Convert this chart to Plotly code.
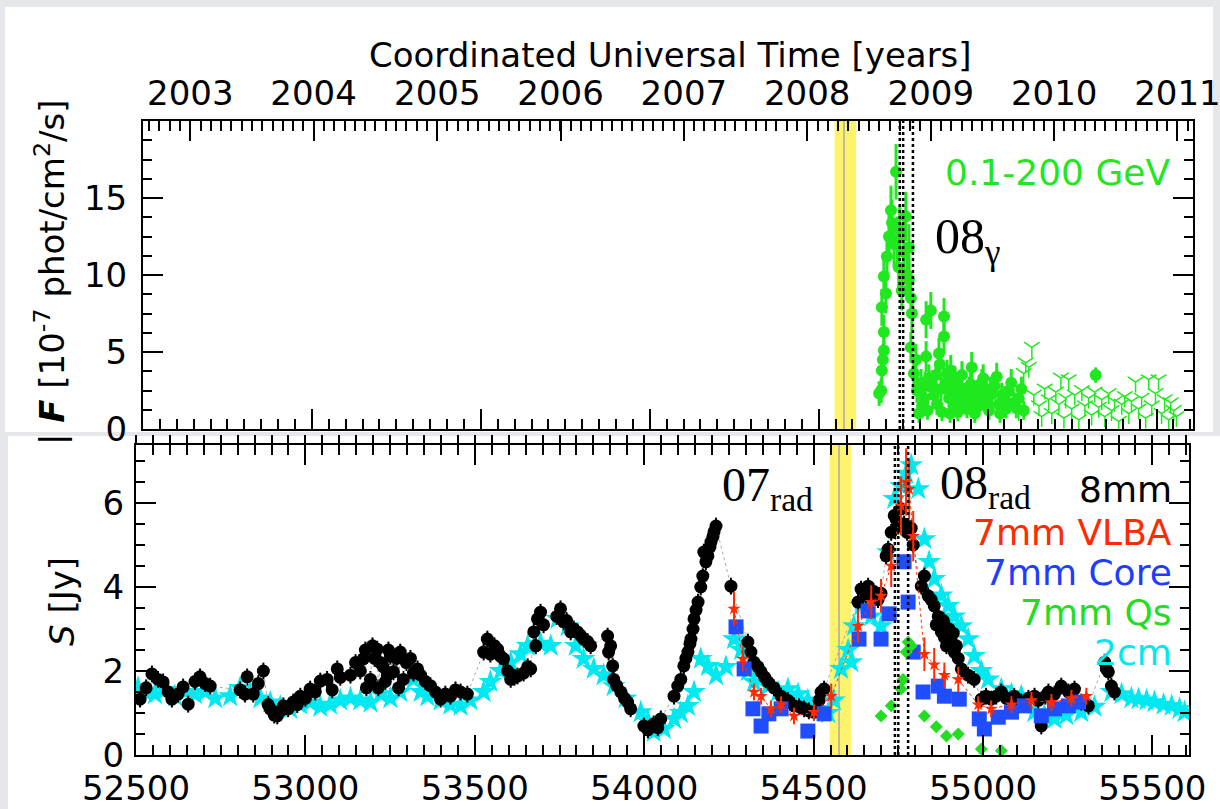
import plotly.graph_objects as go

W, H = 1220, 809
ML, MR, MT, MB = 136, 20, 121, 54

# ---------------- data ----------------
mjd_gamma = [54679, 54685, 54687, 54690, 54693, 54693, 54687, 54693, 54699, 54702,
             54708, 54714, 54717, 54723, 54729, 54732, 54737, 54740, 54746, 54752,
             54758, 54761, 54767, 54767, 54773, 54776, 54773, 54782, 54788, 54791,
             54797, 54803, 54812, 54818, 54818, 54826, 54832, 54841, 54847, 54856,
             54862, 54871, 54871, 54877, 54886, 54891, 54900, 54909, 54915, 54924,
             54930, 54939, 54945, 54953, 54959, 54968, 54974, 54983, 54992, 55004,
             55013, 55021, 55033, 55042, 55054, 55063, 55078, 55092, 55107, 55320,
             54806, 54815, 54822, 54835, 54850, 54859, 54865, 54880, 54889, 54895,
             54903, 54912, 54920, 54934, 54950, 54962, 54978, 54987, 54998, 55008,
             55027, 55037, 55048, 55070, 55085, 55100]
flux_gamma = [2.3, 2.5, 3.8, 4.5, 5.1, 6.3, 7.9, 9.9, 8.8, 11.2,
              12.5, 14.2, 13.4, 12.0, 16.7, 12.3, 10.5, 13.0, 9.0, 11.5,
              13.8, 10.0, 11.8, 9.7, 8.5, 7.5, 5.3, 3.6, 4.5, 2.5,
              1.0, 3.0, 2.0, 4.7, 7.1, 3.3, 7.7, 2.2, 3.5, 4.9,
              2.6, 7.3, 6.0, 3.0, 2.0, 3.8, 1.5, 2.8, 1.8, 3.5,
              2.2, 1.3, 2.6, 4.0, 1.8, 2.4, 1.5, 3.0, 2.0, 1.2,
              2.3, 2.8, 1.6, 2.2, 1.3, 2.5, 1.7, 2.0, 1.2, 3.5,
              1.5, 2.8, 1.2, 2.9, 1.6, 4.2, 1.1, 3.6, 1.0, 2.4,
              3.2, 1.1, 2.3, 1.7, 2.9, 1.0, 2.1, 3.3, 1.6, 2.6,
              3.4, 1.0, 1.9, 3.0, 1.4, 2.6]
err_gamma = [0.8, 0.8, 0.9, 1.0, 1.0, 1.1, 1.2, 1.4, 1.3, 1.5,
             1.5, 1.6, 1.5, 1.5, 1.8, 1.5, 1.4, 1.5, 1.3, 1.5,
             1.6, 1.4, 1.5, 1.4, 1.3, 1.2, 1.0, 0.9, 1.0, 0.8,
             0.6, 0.9, 0.8, 1.0, 1.2, 0.9, 1.2, 0.8, 0.9, 1.0,
             0.8, 1.2, 1.1, 0.9, 0.8, 1.0, 0.7, 0.9, 0.7, 0.9,
             0.8, 0.6, 0.8, 1.0, 0.7, 0.8, 0.7, 0.9, 0.8, 0.6,
             0.8, 0.9, 0.7, 0.8, 0.6, 0.8, 0.7, 0.8, 0.6, 0.5,
             0.7, 0.9, 0.6, 0.9, 0.7, 1.0, 0.6, 0.9, 0.6, 0.8,
             0.9, 0.6, 0.8, 0.7, 0.9, 0.6, 0.8, 0.9, 0.7, 0.8,
             0.9, 0.6, 0.7, 0.9, 0.7, 0.8]
mjd_ul = [55063, 55078, 55092, 55107, 55113, 55122, 55131, 55137, 55152, 55160,
          55169, 55181, 55190, 55202, 55211, 55217, 55226, 55231, 55240, 55249,
          55258, 55270, 55279, 55288, 55299, 55308, 55317, 55329, 55338, 55347,
          55358, 55367, 55376, 55388, 55397, 55406, 55418, 55426, 55438, 55447,
          55456, 55468, 55477, 55486, 55497, 55506, 55515, 55524, 55536, 55542,
          55551, 55559]
flux_ul = [2.5, 1.8, 1.2, 3.6, 4.3, 4.0, 5.3, 2.2, 1.5, 0.8,
           2.6, 1.9, 1.0, 2.4, 1.6, 3.3, 0.7, 2.0, 3.2, 1.3,
           2.2, 0.6, 2.5, 1.5, 2.0, 0.9, 2.4, 1.4, 1.9, 0.8,
           2.3, 1.2, 1.8, 0.5, 1.6, 2.1, 1.0, 1.8, 3.05, 1.3,
           2.0, 0.7, 3.2, 1.5, 2.3, 3.2, 1.0, 1.9, 0.6, 1.7,
           1.2, 0.8]

mjd_8mm = [52512, 52530, 52547, 52565, 52580, 52595, 52606, 52624, 52639, 52654,
           52674, 52689, 52704, 52719, 52807, 52822, 52828, 52846, 52861, 52876,
           52890, 52896, 52908, 52917, 52926, 52935, 52949, 52964, 52976, 52985,
           53000, 53014, 53029, 53044, 53064, 53079, 53094, 53103, 53133, 53148,
           53162, 53171, 53177, 53180, 53192, 53198, 53204, 53212, 53215, 53221,
           53230, 53236, 53242, 53245, 53251, 53260, 53269, 53275, 53280, 53289,
           53298, 53310, 53319, 53331, 53340, 53354, 53369, 53384, 53399, 53413,
           53428, 53443, 53458, 53478, 53526, 53537, 53546, 53558, 53567, 53576,
           53585, 53597, 53606, 53617, 53626, 53644, 53656, 53665, 53674, 53680,
           53685, 53694, 53703, 53742, 53753, 53762, 53771, 53783, 53792, 53803,
           53812, 53821, 53833, 53842, 53892, 53895, 53901, 53907, 53910, 53919,
           53931, 53942, 53951, 53960, 53999, 54011, 54028, 54040, 54049, 54088,
           54099, 54108, 54117, 54123, 54129, 54135, 54138, 54144, 54147, 54153,
           54159, 54167, 54173, 54176, 54182, 54188, 54194, 54197, 54203, 54206,
           54212, 54256, 54306, 54315, 54324, 54336, 54345, 54356, 54365, 54383,
           54404, 54424, 54442, 54457, 54472, 54486, 54501, 54516, 54522, 54531,
           54631, 54640, 54655, 54661, 54676, 54690, 54699, 54714, 54720, 54729,
           54738, 54744, 54750, 54758, 54767, 54776, 54788, 54794, 54818, 54827,
           54838, 54847, 54856, 54862, 54868, 54877, 54883, 54886, 54892, 54897,
           54900, 54906, 54912, 54915, 54921, 54927, 54936, 54956, 54974, 54995,
           55009, 55024, 55039, 55054, 55069, 55092, 55113, 55134, 55152, 55163,
           55172, 55184, 55193, 55211, 55231, 55252, 55270, 55290, 55311, 55359,
           55364, 55370, 55379, 55388]
s_8mm = [1.33, 1.6, 1.93, 1.8, 1.74, 1.5, 1.33, 1.45, 1.62, 1.21,
         1.75, 1.86, 1.7, 1.64, 1.55, 1.45, 1.86, 1.45, 1.7, 2.0,
         1.2, 1.1, 0.95, 0.93, 1.05, 1.17, 1.1, 1.26, 1.2, 1.4,
         1.35, 1.57, 1.5, 1.76, 1.8, 1.55, 2.05, 1.85, 1.9, 2.2,
         2.0, 2.29, 2.5, 1.6, 1.8, 2.6, 2.3, 2.52, 1.6, 2.2,
         2.1, 1.75, 1.9, 2.5, 2.35, 1.98, 2.3, 1.6, 2.45, 1.8,
         2.2, 2.3, 1.95, 2.05, 1.9, 1.75, 1.65, 1.5, 1.33, 1.45,
         1.4, 1.55, 1.5, 1.45, 2.45, 2.76, 2.4, 2.6, 2.52, 2.35,
         2.29, 2.0, 1.8, 1.85, 1.88, 1.95, 2.1, 2.05, 2.93, 2.6,
         3.24, 3.4, 3.1, 3.3, 3.48, 3.17, 3.2, 2.93, 3.0, 2.93,
         2.85, 2.76, 2.7, 2.6, 2.83, 2.45, 2.6, 2.12, 1.8, 1.65,
         1.5, 1.35, 1.26, 1.1, 0.69, 0.6, 0.74, 0.65, 0.86, 1.4,
         1.64, 1.8, 2.12, 2.3, 2.45, 2.65, 2.76, 3.0, 3.24, 3.45,
         3.64, 4.0, 4.26, 4.83, 4.6, 4.74, 4.95, 5.07, 5.2, 5.31,
         5.45, 4.02, 2.69, 2.45, 2.21, 2.1, 1.98, 1.85, 1.74, 1.6,
         1.4, 1.3, 1.17, 1.15, 1.1, 1.05, 1.02, 1.3, 1.5, 1.57,
         3.64, 3.95, 3.8, 4.02, 3.9, 3.7, 3.85, 4.74, 4.9, 5.3,
         5.7, 5.6, 5.45, 5.86, 5.5, 5.3, 5.4, 5.0, 4.02, 4.26,
         3.79, 3.7, 3.55, 3.1, 3.3, 2.93, 3.2, 2.8, 2.6, 2.83,
         3.0, 2.69, 2.9, 2.45, 2.6, 2.3, 2.05, 1.9, 1.8, 1.33,
         1.4, 1.33, 1.4, 1.5, 1.35, 1.4, 1.26, 1.35, 1.4, 1.3,
         0.69, 1.4, 1.5, 1.45, 1.64, 1.5, 1.57, 1.26, 1.17, 2.21,
         2.05, 1.98, 1.64, 1.5]

mjd_2cm = [52506, 52527, 52556, 52586, 52615, 52645, 52674, 52704, 52734, 52778,
           52807, 52837, 52867, 52896, 52926, 52955, 52985, 53014, 53044, 53073,
           53103, 53133, 53162, 53192, 53221, 53251, 53280, 53319, 53340, 53360,
           53399, 53428, 53458, 53487, 53526, 53546, 53576, 53606, 53635, 53656,
           53694, 53724, 53744, 53774, 53798, 53821, 53851, 53880, 53910, 53945,
           53990, 54011, 54028, 54058, 54088, 54108, 54129, 54147, 54167, 54188,
           54212, 54241, 54265, 54286, 54306, 54324, 54365, 54395, 54424, 54454,
           54483, 54513, 54543, 54560, 54581, 54602, 54611, 54619, 54640, 54670,
           54699, 54720, 54738, 54758, 54773, 54788, 54809, 54827, 54841, 54856,
           54877, 54897, 54915, 54936, 54956, 54974, 54995, 55015, 55054, 55084,
           55113, 55152, 55181, 55211, 55246, 55290, 55329, 55379, 55409, 55438,
           55459, 55483, 55506, 55533, 55557, 55580, 55595]
s_2cm = [1.6, 1.5, 1.45, 1.55, 1.4, 1.5, 1.45, 1.5, 1.35, 1.4,
         1.6, 1.5, 1.35, 1.25, 1.15, 1.1, 1.2, 1.25, 1.15, 1.2,
         1.3, 1.35, 1.3, 1.25, 1.45, 1.35, 1.5, 1.8, 1.5, 1.4,
         1.3, 1.2, 1.17, 1.3, 1.5, 1.74, 2.0, 2.2, 2.4, 2.6,
         2.65, 2.6, 3.24, 3.07, 2.6, 2.29, 2.05, 1.9, 1.64, 1.35,
         1.02, 0.8, 0.55, 0.62, 0.86, 1.0, 1.17, 1.5, 2.29, 2.12,
         1.9, 2.1, 2.76, 2.5, 2.0, 1.74, 1.64, 1.5, 1.57, 1.45,
         1.3, 1.1, 1.0, 1.3, 2.05, 2.5, 2.21, 3.07, 3.55, 3.3,
         3.07, 4.83, 6.1, 6.4, 6.7, 6.9, 6.33, 5.14, 4.6, 4.19,
         3.8, 3.55, 3.3, 3.07, 2.76, 2.36, 2.0, 1.8, 1.57, 1.45,
         1.4, 1.02, 0.95, 0.86, 0.95, 1.02, 1.15, 1.5, 1.45, 1.35,
         1.33, 1.3, 1.26, 1.2, 1.17, 1.1, 1.02]

mjd_vlba = [54265, 54291, 54324, 54345, 54374, 54404, 54442, 54501, 54552, 54631,
            54670, 54699, 54729, 54758, 54773, 54782, 54794, 54827, 54856, 54886,
            54927, 54986, 55024, 55084, 55143, 55202, 55261, 55305]
s_vlba = [3.48, 2.29, 1.5, 1.4, 1.1, 1.2, 0.93, 1.02, 1.4, 3.07,
          3.64, 3.79, 4.5, 5.93, 6.5, 6.33, 5.21, 2.4, 2.15, 1.9,
          1.8, 1.2, 1.1, 1.2, 1.3, 1.25, 1.35, 1.4]
err_vlba = [0.4, 0.3, 0.2, 0.2, 0.2, 0.2, 0.2, 0.2, 0.3, 0.4,
            0.4, 0.4, 0.5, 0.7, 0.8, 0.7, 0.6, 0.4, 0.4, 0.3,
            0.3, 0.2, 0.2, 0.2, 0.2, 0.2, 0.2, 0.2]

mjd_core = [54271, 54295, 54321, 54345, 54368, 54404, 54483, 54531, 54634, 54661,
            54699, 54723, 54767, 54779, 54794, 54823, 54868, 54886, 54930, 54989,
            55004, 55045, 55084, 55122, 55172, 55211, 55252, 55282]
s_core = [3.05, 2.05, 1.1, 0.69, 0.98, 1.1, 0.57, 0.98, 2.76, 3.43,
          2.76, 3.36, 4.6, 3.64, 2.45, 1.5, 1.64, 1.4, 1.33, 0.86,
          0.62, 0.9, 1.02, 1.17, 0.93, 1.1, 1.17, 1.26]

mjd_qs = [54699, 54729, 54758, 54764, 54773, 54779, 54788, 54827, 54862, 54892,
          54927, 54995, 55054]
s_qs = [0.93, 1.17, 1.57, 1.8, 2.45, 2.69, 2.6, 0.93, 0.67, 0.45,
        0.5, 0.14, 0.1]

band_07 = [54547, 54611]
band_07_center = 54575
dotted_08 = [54740, 54750, 54779]

mjd_range = [52500, 55608]
year_mjd = [52640, 53005, 53371, 53736, 54101, 54466, 54832, 55197, 55562]
year_labels = ["2003", "2004", "2005", "2006", "2007", "2008", "2009", "2010", "2011"]
flux_ticks = [0, 5, 10, 15]
legend_labels = ["8mm", "7mm VLBA", "7mm Core", "7mm Qs", "2cm"]
legend_colors = ["#000000", "#ff2a00", "#1f3dff", "#22dd22", "#00e8f0"]

GREEN = "#1fe81f"
CYAN = "#00e8f0"
RED = "#ff2a00"
BLUE = "#1f4dff"

PW = W - ML - MR
PH = H - MT - MB


def xp(x):
    return (x - ML) / PW


def yp(y):
    return (H - MB - y) / PH


fig = go.Figure()

# top panel
fig.add_trace(go.Scatter(
    x=mjd_gamma, y=flux_gamma, xaxis="x", yaxis="y", mode="markers",
    marker=dict(symbol="circle", size=12, color=GREEN),
    error_y=dict(type="data", array=err_gamma, color=GREEN, thickness=3, width=0),
    showlegend=False, hoverinfo="skip"))
fig.add_trace(go.Scatter(
    x=mjd_ul, y=flux_ul, xaxis="x3", yaxis="y3", mode="markers",
    marker=dict(symbol="y-down", size=13, color=GREEN,
                line=dict(color=GREEN, width=1.5)),
    showlegend=False, hoverinfo="skip"))

# bottom panel
fig.add_trace(go.Scatter(
    x=mjd_2cm, y=s_2cm, xaxis="x2", yaxis="y2", mode="markers",
    marker=dict(symbol="star", size=18, color=CYAN),
    showlegend=False, hoverinfo="skip"))
fig.add_trace(go.Scatter(
    x=mjd_8mm, y=s_8mm, xaxis="x2", yaxis="y2", mode="markers+lines",
    line=dict(color="#aaaaaa", width=1, dash="dot"),
    marker=dict(symbol="circle", size=13, color="black"),
    error_y=dict(type="constant", value=0.2, color="black", thickness=2, width=0),
    showlegend=False, hoverinfo="skip"))
fig.add_trace(go.Scatter(
    x=mjd_vlba, y=s_vlba, xaxis="x5", yaxis="y2", mode="markers+lines",
    line=dict(color=RED, width=1, dash="dot"),
    marker=dict(symbol="star", size=10, color=RED),
    error_y=dict(type="data", array=err_vlba, color=RED, thickness=2, width=0),
    showlegend=False, hoverinfo="skip"))
fig.add_trace(go.Scatter(
    x=mjd_core, y=s_core, xaxis="x2", yaxis="y4", mode="markers",
    marker=dict(symbol="square", size=15, color=BLUE),
    showlegend=False, hoverinfo="skip"))
fig.add_trace(go.Scatter(
    x=mjd_qs, y=s_qs, xaxis="x4", yaxis="y2", mode="markers",
    marker=dict(symbol="diamond", size=10, color="#22dd22"),
    showlegend=False, hoverinfo="skip"))

# shapes
shapes = [
    dict(type="rect", xref="paper", yref="paper", x0=xp(5), x1=xp(1213),
         y0=yp(432), y1=yp(7), fillcolor="white", line=dict(width=0), layer="below"),
    dict(type="rect", xref="paper", yref="paper", x0=xp(8), x1=xp(1220),
         y0=yp(809), y1=yp(436), fillcolor="white", line=dict(width=0), layer="below"),
]
for xr, yr in (("x", "y domain"), ("x2", "y2 domain")):
    shapes.append(dict(type="rect", xref=xr, yref=yr, x0=band_07[0], x1=band_07[1],
                       y0=0, y1=1, fillcolor="#fff36b", line=dict(width=0), layer="below"))
    shapes.append(dict(type="line", xref=xr, yref=yr, x0=band_07_center, x1=band_07_center,
                       y0=0, y1=1, line=dict(color="#a9a9a9", width=1.5), layer="below"))
    for xv in dotted_08:
        shapes.append(dict(type="line", xref=xr, yref=yr, x0=xv, x1=xv, y0=0, y1=1,
                           line=dict(color="black", width=2.5, dash="dot"), layer="above"))

# annotations
ann = [
    dict(text="Coordinated Universal Time [years]", x=xp(670), y=yp(55),
         xanchor="center", yanchor="middle", font=dict(size=34)),
    dict(text="0.1-200 GeV", x=xp(1172), y=yp(172), xanchor="right", yanchor="middle",
         font=dict(size=36, color=GREEN)),
    dict(text="08<sub>γ</sub>", x=xp(933), y=yp(240), xanchor="left", yanchor="middle",
         font=dict(family="Liberation Serif", size=50, color="black")),
    dict(text="07<sub>rad</sub>", x=xp(720), y=yp(488), xanchor="left", yanchor="middle",
         font=dict(family="Liberation Serif", size=48, color="black")),
    dict(text="08<sub>rad</sub>", x=xp(938), y=yp(486), xanchor="left", yanchor="middle",
         font=dict(family="Liberation Serif", size=48, color="black")),
    dict(text="| <b><i>F</i></b> [10<sup>-7</sup> phot/cm<sup>2</sup>/s]", x=xp(50), y=yp(272),
         xanchor="center", yanchor="middle", textangle=-90, font=dict(size=34)),
    dict(text="<i>S</i> [Jy]", x=xp(62), y=yp(602),
         xanchor="center", yanchor="middle", textangle=-90, font=dict(size=34)),
]
leg_y = [490, 532, 572, 612, 652]
for lab, col, yy in zip(legend_labels, legend_colors, leg_y):
    ann.append(dict(text=lab, x=xp(1174), y=yp(yy), xanchor="right", yanchor="middle",
                    font=dict(size=36, color=col)))
for a in ann:
    a.update(xref="paper", yref="paper", showarrow=False)

tickfont = dict(family="DejaVu Sans", size=34, color="black")
base = dict(showgrid=False, zeroline=False, showline=True, linecolor="black",
            linewidth=2, tickfont=tickfont, automargin=False, ticklabeloverflow="allow")
tk = dict(ticks="inside", tickwidth=2, tickcolor="black")
mjd_major = dict(dtick=500, tick0=52500, ticklen=20,
                 minor=dict(dtick=50, tick0=52500, ticklen=10, **tk))

top_dom = [xp(143), xp(1193)]
bot_dom = [xp(136), xp(1189)]

fig.update_layout(
    width=W, height=H, margin=dict(l=ML, r=MR, t=MT, b=MB, pad=0), autosize=False,
    paper_bgcolor="#e5e7eb", plot_bgcolor="rgba(0,0,0,0)",
    font=dict(family="DejaVu Sans", size=34, color="black"),
    hovermode=False, showlegend=False,
    shapes=shapes, annotations=ann,
    # ---- top panel ----
    xaxis=dict(domain=top_dom, range=mjd_range, anchor="y", side="bottom",
               showticklabels=False, **mjd_major, **tk, **base),
    xaxis3=dict(overlaying="x", side="top", anchor="y", range=mjd_range,
                tickmode="array", tickvals=year_mjd, ticktext=year_labels, ticklen=20,
                minor=dict(tick0=52640, dtick=30.4375, ticklen=10, **tk), **tk, **base),
    yaxis=dict(domain=[yp(429), yp(121)], range=[0, 20], anchor="x", side="left",
               tickmode="array", tickvals=flux_ticks, ticklen=20, ticklabelstandoff=7,
               minor=dict(dtick=1.25, ticklen=9, **tk), **tk, **base),
    yaxis3=dict(overlaying="y", side="right", anchor="x", range=[0, 20],
                tickmode="array", tickvals=flux_ticks, ticklen=20, showticklabels=False,
                minor=dict(dtick=1.25, ticklen=9, **tk), **tk, **base),
    # ---- bottom panel ----
    xaxis2=dict(domain=bot_dom, range=mjd_range, anchor="y2", side="bottom",
                tickformat="d", ticklabelstandoff=2, **mjd_major, **tk, **base),
    xaxis5=dict(overlaying="x2", side="top", anchor="y2", range=mjd_range,
                showticklabels=False, **mjd_major, **tk, **base),
    xaxis4=dict(overlaying="x2", side="top", anchor="y2", range=mjd_range,
                ticks="outside", ticklen=9, tickwidth=2, tickcolor="black",
                dtick=50, tick0=52500, showticklabels=False, showgrid=False,
                zeroline=False, showline=False, automargin=False),
    yaxis2=dict(domain=[yp(755), yp(445)], range=[0, 7.38], anchor="x2", side="left",
                dtick=2, tick0=0, ticklen=20, ticklabelstandoff=3,
                minor=dict(dtick=0.5, ticklen=9, **tk), **tk, **base),
    yaxis4=dict(overlaying="y2", side="right", anchor="x2", range=[0, 7.38],
                dtick=2, tick0=0, ticklen=20, showticklabels=False,
                minor=dict(dtick=0.5, ticklen=9, **tk), **tk, **base),
)

fig.write_html("out.html")
